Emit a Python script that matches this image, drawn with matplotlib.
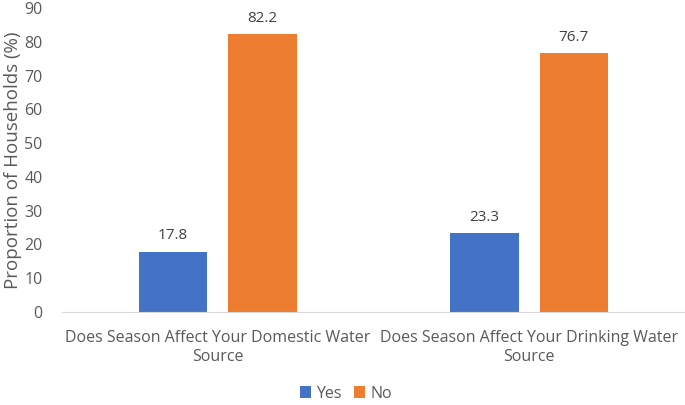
import matplotlib.pyplot as plt
import numpy as np

categories = ["Does Season Affect Your Domestic Water\nSource",
              "Does Season Affect Your Drinking Water\nSource"]
yes_vals = [17.8, 23.3]
no_vals = [82.2, 76.7]
y_ticks = [0, 10, 20, 30, 40, 50, 60, 70, 80, 90]

COLOR_YES = "#4472C4"
COLOR_NO = "#ED7D31"
TEXT = "#595959"

plt.rcParams["font.family"] = ["Open Sans", "DejaVu Sans"]

fig = plt.figure(figsize=(6.85, 4.05), dpi=100)
ax = fig.add_axes([0.0905, 0.2296, 0.9095, 0.7504])

x = np.arange(len(categories))
w = 0.22
off = 0.143
b1 = ax.bar(x - off, yes_vals, w, color=COLOR_YES, label="Yes")
b2 = ax.bar(x + off, no_vals, w, color=COLOR_NO, label="No")

for bars in (b1, b2):
    for r in bars:
        ax.text(r.get_x() + r.get_width() / 2, r.get_height() + 2.5,
                f"{r.get_height():.1f}", ha="center", va="bottom",
                fontsize=11, color="#404040")

ax.set_xlim(-0.5, 1.5)
ax.set_ylim(0, 90)
ax.set_yticks(y_ticks)
ax.set_xticks(x)
ax.set_xticklabels(categories, fontsize=11.5, color=TEXT, linespacing=1.25)
ax.tick_params(axis="y", labelsize=11.5, labelcolor=TEXT, length=0, pad=14)
ax.tick_params(axis="x", length=0, pad=13)
ax.set_ylabel("Proportion of Households (%)", fontsize=13.5, color=TEXT, labelpad=2)

for s in ["top", "right", "left"]:
    ax.spines[s].set_visible(False)
ax.spines["bottom"].set_color("#d9d9d9")

fig.legend(handles=[b1, b2], loc="center", bbox_to_anchor=(0.505, 0.028),
           ncol=2, frameon=False, fontsize=11.5, labelcolor=TEXT,
           handlelength=0.7, handleheight=0.7, handletextpad=0.3, columnspacing=0.8,
           borderpad=0.1)

fig.savefig("out.png", dpi=100)
